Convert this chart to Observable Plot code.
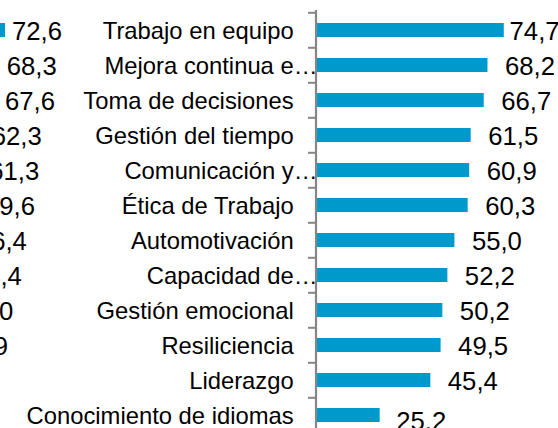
<!DOCTYPE html>
<html>
<head>
<meta charset="utf-8">
<script src="https://cdn.jsdelivr.net/npm/d3@7"></script>
<script src="https://cdn.jsdelivr.net/npm/@observablehq/plot@0.6"></script>
<style>
  html, body { margin: 0; padding: 0; background: #fff; overflow: hidden; }
  #wrap { position: relative; width: 558px; height: 428px; overflow: hidden; background: #fff; }
  #left, #main { position: absolute; top: 0; }
  #left { left: -177.5px; }
  #main { left: 0; }
  svg { background: transparent !important; }
</style>
</head>
<body>
<div id="wrap"><div id="left"></div><div id="main"></div></div>
<script>
// Main chart data
const categories = [
  "Trabajo en equipo",
  "Mejora continua e…",
  "Toma de decisiones",
  "Gestión del tiempo",
  "Comunicación y…",
  "Ética de Trabajo",
  "Automotivación",
  "Capacidad de…",
  "Gestión emocional",
  "Resiliciencia",
  "Liderazgo",
  "Conocimiento de idiomas"
];
const values = [74.7, 68.2, 66.7, 61.5, 60.9, 60.3, 55.0, 52.2, 50.2, 49.5, 45.4, 25.2];

// Neighbouring chart (cropped at the left edge): only its value labels show
const leftValues = [72.6, 68.3, 67.6, 62.3, 61.3, 59.6, 56.4, 54.4, 51.0, 48.9];

const fmt = v => d3.format(".1f")(v).replace(".", ",");
const FONT = "'Liberation Sans', Arial, Helvetica, sans-serif";
const BAR = "#0099CC";
const AXIS = "#868686";

const H = 435, MT = 10, MB = 0;
const step = (H - MT - MB) / categories.length;
const TICK = 3; // tick length, in x units (~7.5px)

const data = categories.map((c, i) => ({
  c,
  v: values[i],
  i,
  base: c.endsWith("…") ? c.slice(0, -1) : c,
  ell: c.endsWith("…")
}));
const last = categories.length - 1;

const main = Plot.plot({
  width: 558,
  height: H,
  marginLeft: 316.5,
  marginRight: 40.94,
  marginTop: MT,
  marginBottom: MB,
  style: { fontFamily: FONT, background: "transparent", overflow: "visible" },
  x: { domain: [0, 80], axis: null },
  y: { domain: categories, paddingInner: 0.6, paddingOuter: 0.3, axis: null },
  marks: [
    Plot.barX(data, { x: "v", y: "c", fill: BAR }),
    Plot.ruleX([0], { stroke: AXIS, strokeWidth: 2.2, dx: -1 }),
    Plot.ruleY(data, { y: "c", x1: -TICK, x2: 0, dx: -1, dy: -step / 2, stroke: AXIS, strokeWidth: 2 }),
    Plot.text(data, { x: 0, y: "c", text: "base", textAnchor: "end", dx: -23.3, dy: 1.2, fontSize: 23.8, fill: "#000" }),
    Plot.text(data.filter(d => d.ell), { x: 0, y: "c", text: () => "…", textAnchor: "start", dx: -23.3, dy: 1.2, fontSize: 23.8, fill: "#000" }),
    Plot.text(data.filter(d => d.i === 0), { x: "v", y: "c", text: d => fmt(d.v), textAnchor: "start", dx: 5.3, dy: 1.5, fontSize: 25.7, fill: "#000" }),
    Plot.text(data.filter(d => d.i > 0 && d.i < last), { x: "v", y: "c", text: d => fmt(d.v), textAnchor: "start", dx: 17, dy: 1.5, fontSize: 25.7, fill: "#000" }),
    Plot.text(data.filter(d => d.i === last), { x: "v", y: "c", text: d => fmt(d.v), textAnchor: "start", dx: 16, dy: 6, fontSize: 25.7, fill: "#000" })
  ]
});
document.getElementById("main").append(main);

const leftData = leftValues.map((v, i) => ({ i, v }));
const left = Plot.plot({
  width: 260,
  height: H,
  marginLeft: 0,
  marginRight: 59.44,
  marginTop: MT,
  marginBottom: MB,
  style: { fontFamily: FONT, background: "transparent", overflow: "visible" },
  x: { domain: [0, 80], axis: null },
  y: { domain: d3.range(categories.length), paddingInner: 0.6, paddingOuter: 0.3, axis: null },
  marks: [
    Plot.barX(leftData, { x: "v", y: "i", fill: BAR }),
    Plot.text(leftData.filter(d => d.i === 0), { x: "v", y: "i", text: d => fmt(d.v), textAnchor: "start", dx: 6.5, dy: 1.5, fontSize: 25.7, fill: "#000" }),
    Plot.text(leftData.filter(d => d.i > 0), { x: "v", y: "i", text: d => fmt(d.v), textAnchor: "start", dx: 12, dy: 1.5, fontSize: 25.7, fill: "#000" })
  ]
});
document.getElementById("left").append(left);
</script>
</body>
</html>
